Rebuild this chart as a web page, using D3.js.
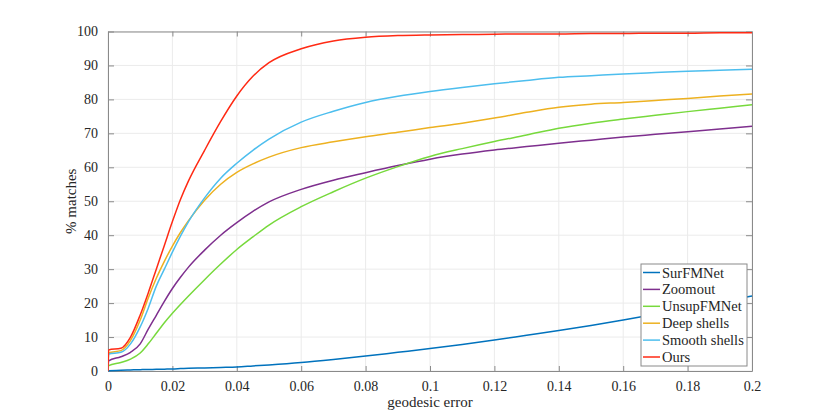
<!DOCTYPE html>
<html>
<head>
<meta charset="utf-8">
<script src="https://cdn.jsdelivr.net/npm/d3@7"></script>
<style>
  html, body { margin: 0; padding: 0; background: #fff; }
  svg { display: block; }
  text { font-family: "Liberation Serif", "DejaVu Serif", serif; fill: #262626; }
</style>
</head>
<body>
<svg id="chart" width="830" height="417"></svg>
<script>
// ---- data ----
const errors = [0, 0.0002, 0.004, 0.007, 0.01, 0.0125, 0.015, 0.0175, 0.02, 0.0225, 0.025, 0.03, 0.035, 0.04, 0.045, 0.05, 0.06, 0.07, 0.08, 0.09, 0.1, 0.11, 0.12, 0.13, 0.14, 0.15, 0.16, 0.17, 0.18, 0.19, 0.2];
const seriesNames = ["SurFMNet", "Zoomout", "UnsupFMNet", "Deep shells", "Smooth shells", "Ours"];
const surfmnet     = [0, 0.1, 0.2, 0.3, 0.4, 0.45, 0.5, 0.55, 0.6, 0.7, 0.8, 0.9, 1.05, 1.2, 1.5, 1.8, 2.5, 3.4, 4.4, 5.5, 6.6, 7.8, 9.1, 10.5, 11.9, 13.4, 15.0, 16.7, 18.5, 20.3, 22.1];
const zoomout      = [0, 3.0, 4.2, 5.5, 8.0, 12.3, 16.4, 20.5, 24.3, 27.6, 30.6, 35.6, 40.0, 43.7, 47.0, 49.8, 53.5, 56.2, 58.4, 60.5, 62.4, 63.9, 65.1, 66.1, 67.1, 68.0, 68.9, 69.7, 70.5, 71.3, 72.1];
const unsupfmnet   = [0, 1.6, 2.5, 3.5, 5.3, 8.0, 11.1, 14.2, 17.0, 19.6, 22.1, 26.9, 31.5, 35.8, 39.5, 43.0, 48.4, 52.8, 56.8, 60.2, 63.2, 65.5, 67.6, 69.5, 71.5, 73.0, 74.2, 75.3, 76.4, 77.4, 78.4];
const deepShells   = [0, 5.4, 6.0, 9.0, 15.0, 21.5, 27.3, 32.3, 36.8, 40.8, 44.3, 50.3, 55.0, 58.5, 61.0, 63.0, 65.8, 67.5, 69.0, 70.3, 71.7, 73.0, 74.5, 76.2, 77.7, 78.6, 79.1, 79.7, 80.3, 81.0, 81.6];
const smoothShells = [0, 5.0, 5.5, 8.0, 13.0, 18.5, 25.0, 30.0, 35.0, 39.7, 44.0, 51.0, 56.8, 61.2, 65.0, 68.3, 73.3, 76.5, 79.1, 80.9, 82.3, 83.5, 84.6, 85.6, 86.5, 87.0, 87.5, 87.9, 88.3, 88.6, 88.9];
const ours         = [0, 6.2, 6.7, 10.0, 16.5, 23.0, 30.0, 37.0, 44.0, 50.5, 56.0, 65.0, 73.5, 81.0, 86.8, 90.8, 94.9, 97.2, 98.3, 98.8, 99.0, 99.1, 99.2, 99.3, 99.3, 99.4, 99.4, 99.5, 99.5, 99.6, 99.6];
const seriesColors = ["#0072BD", "#7E2F8E", "#77D93C", "#EDB120", "#4DBEEE", "#FF2A14"];
const xTicks = [0, 0.02, 0.04, 0.06, 0.08, 0.1, 0.12, 0.14, 0.16, 0.18, 0.2];
const xTickLabels = ["0", "0.02", "0.04", "0.06", "0.08", "0.1", "0.12", "0.14", "0.16", "0.18", "0.2"];
const yTicks = [0, 10, 20, 30, 40, 50, 60, 70, 80, 90, 100];
const xLabel = "geodesic error";
const yLabel = "% matches";

const allSeries = [surfmnet, zoomout, unsupfmnet, deepShells, smoothShells, ours];

// ---- layout ----
const svg = d3.select("#chart");
const pL = 108, pR = 752, pT = 31.5, pB = 371;
const x = d3.scaleLinear().domain([0, 0.2]).range([pL, pR]);
const y = d3.scaleLinear().domain([0, 100]).range([pB, pT]);

// grid
const grid = svg.append("g");
grid.selectAll("line.vx").data(xTicks).join("line")
  .attr("x1", d => x(d)).attr("x2", d => x(d)).attr("y1", pT).attr("y2", pB)
  .attr("stroke", "#ebebeb").attr("stroke-width", 1);
grid.selectAll("line.hy").data(yTicks).join("line")
  .attr("x1", pL).attr("x2", pR).attr("y1", d => y(d)).attr("y2", d => y(d))
  .attr("stroke", "#ebebeb").attr("stroke-width", 1);

// axes (box with ticks inward)
const axisColor = "#8a8a8a";
const axBottom = d3.axisBottom(x).tickValues(xTicks).tickFormat((d, i) => xTickLabels[i]).tickSizeInner(-5).tickSizeOuter(0).tickPadding(10);
const axTop = d3.axisTop(x).tickValues(xTicks).tickFormat("").tickSizeInner(-5).tickSizeOuter(0);
const axLeft = d3.axisLeft(y).tickValues(yTicks).tickSizeInner(-6).tickSizeOuter(0).tickPadding(10);
const axRight = d3.axisRight(y).tickValues(yTicks).tickFormat("").tickSizeInner(-6).tickSizeOuter(0);

function style(g) {
  g.select(".domain").attr("stroke", axisColor);
  g.selectAll(".tick line").attr("stroke", axisColor);
  g.selectAll(".tick text").attr("font-family", "Liberation Serif, serif").attr("font-size", 14).attr("fill", "#262626");
}
svg.append("g").attr("transform", `translate(0,${pB})`).call(axBottom).call(style);
svg.append("g").attr("transform", `translate(0,${pT})`).call(axTop).call(style);
svg.append("g").attr("transform", `translate(${pL},0)`).call(axLeft).call(style);
svg.append("g").attr("transform", `translate(${pR},0)`).call(axRight).call(style);

// lines
svg.append("clipPath").attr("id", "clip").append("rect")
  .attr("x", pL).attr("y", pT - 2).attr("width", pR - pL + 1).attr("height", pB - pT + 3);
const lineGen = d3.line().x((d, i) => x(errors[i])).y(d => y(d)).curve(d3.curveMonotoneX);
const lines = svg.append("g").attr("clip-path", "url(#clip)");
allSeries.forEach((s, k) => {
  lines.append("path").datum(s)
    .attr("d", lineGen)
    .attr("fill", "none")
    .attr("stroke", seriesColors[k])
    .attr("stroke-width", 1.5);
});

// axis labels
svg.append("text").attr("x", (pL + pR) / 2).attr("y", 407).attr("text-anchor", "middle")
  .attr("font-size", 15).text(xLabel);
svg.append("text").attr("transform", `translate(76,${(pT + pB) / 2}) rotate(-90)`)
  .attr("text-anchor", "middle").attr("font-size", 15).text(yLabel);

// legend
const lg = svg.append("g");
const lx = 641, ly = 264, lw = 106, lh = 102;
lg.append("rect").attr("x", lx).attr("y", ly).attr("width", lw).attr("height", lh)
  .attr("fill", "#fff").attr("stroke", axisColor).attr("stroke-width", 1);
seriesNames.forEach((name, k) => {
  const cy = ly + 8.5 + k * 16.9;
  lg.append("line").attr("x1", lx + 2).attr("x2", lx + 19).attr("y1", cy).attr("y2", cy)
    .attr("stroke", seriesColors[k]).attr("stroke-width", 1.5);
  lg.append("text").attr("x", lx + 21).attr("y", cy).attr("dy", "0.35em")
    .attr("font-size", 14.5).text(name);
});
</script>
</body>
</html>
